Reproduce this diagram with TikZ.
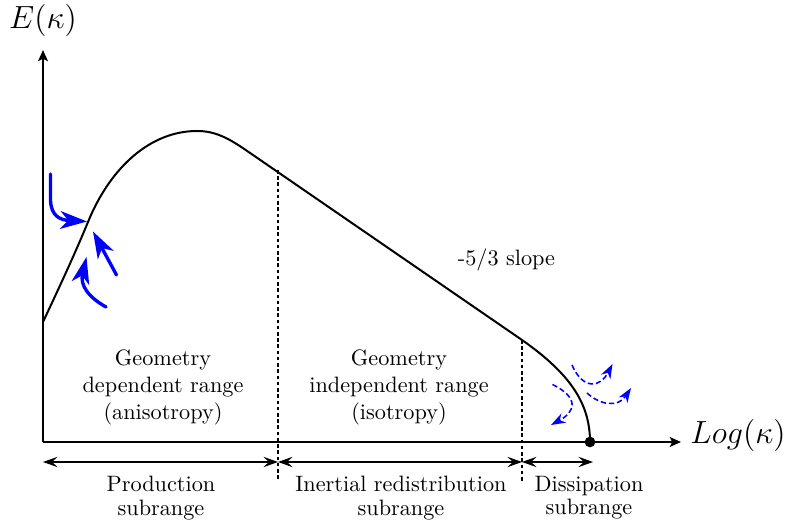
\documentclass[tikz,border=0pt]{standalone}
\usetikzlibrary{arrows.meta}
\tikzset{
    sp axis/.style={line width=0.9pt,
                    -{Stealth[length=5pt, width=4.4pt, inset=1pt]}},
    sp curve/.style={line width=0.9pt},
    sp divider/.style={line width=0.5pt, dash pattern=on 1.6pt off 1.2pt},
    sp range/.style={line width=0.5pt,
                     {Stealth[length=6.5pt, width=4.6pt, inset=2.4pt]}-{Stealth[length=6.5pt, width=4.6pt, inset=2.4pt]}},
    sp text/.style={align=center, font=\normalsize},
    sp sub/.style={align=center, font=\fontsize{10}{10.5}\selectfont},
    sp axis label/.style={font=\Large, anchor=base},
    sp eddy/.style={blue, line width=1.5pt, line cap=round,
                    -{Stealth[length=12pt, width=8pt, inset=3.5pt]}},
    sp decay/.style={blue, line width=0.7pt, dash pattern=on 2.4pt off 1.3pt,
                     -{Stealth[length=6.5pt, width=4.6pt, inset=2pt]}},
}

\begin{document}
\begin{tikzpicture}[x=0.0158cm, y=-0.0158cm]
    \useasboundingbox (0,0) rectangle (788,524);
    % Axes
    \coordinate (O)    at (43, 442);
    \coordinate (ytip) at (43, 50);
    \coordinate (xtip) at (681, 442);
    \draw[sp axis] (O) -- (ytip);
    \draw[sp axis] (O) -- (xtip);
    \node[sp axis label] (ylab) at (43, 28.5) {$E(\kappa)$};
    \node[sp axis label] (xlab) at (738, 443.5) {$Log(\kappa)$};
    % Spectrum
    \coordinate (k0)   at (43, 322);
    \coordinate (kup)  at (88, 222);
    \coordinate (kpk)  at (197, 131);
    \coordinate (kin)  at (245, 149.5);
    \coordinate (kb)   at (522, 340);
    \coordinate (kend) at (590, 442);
    \draw[sp curve] (k0) .. controls (58, 290) and (74, 256) .. (kup)
        .. controls (110, 168) and (150, 131) .. (kpk)
        .. controls (215, 131) and (228, 138) .. (kin)
        -- (kb)
        .. controls (572, 375) and (590, 405) .. (kend);
    \fill (kend) circle[radius=2.4pt];
    % Range dividers
    \coordinate (d1top) at (278, 170);
    \coordinate (d1bot) at (278, 481);
    \coordinate (d2top) at (522, 340);
    \coordinate (d2bot) at (522, 483);
    \draw[sp divider] (d1top) -- (d1bot);
    \draw[sp divider] (d2top) -- (d2bot);
    % Subrange arrows
    \coordinate (r0) at (43, 462);
    \coordinate (r1) at (278, 462);
    \coordinate (r2) at (522, 462);
    \coordinate (r3) at (593, 462);
    \draw[sp range] (r0) -- (r1);
    \draw[sp range] (r1) -- (r2);
    \draw[sp range] (r2) -- (r3);
    \node[sp sub] (prod)  at (161, 498) {Production\\subrange};
    \node[sp sub] (inert) at (401, 498) {Inertial redistribution\\subrange};
    \node[sp sub] (diss)  at (589, 498) {Dissipation\\subrange};
    % Range descriptions
    \node[sp text] (geodep)   at (163, 387.5)
        {Geometry\\dependent range\\(anisotropy)};
    \node[sp text] (geoindep) at (399, 387.5)
        {Geometry\\independent range\\(isotropy)};
    \node[sp text, anchor=base] (slope) at (506.5, 266) {-5/3 slope};
    % Energy injection (large eddies)
    \draw[sp eddy] (50.5, 174) -- (50.5, 200)
        .. controls (51, 216) and (60, 220) .. (87, 221.5);
    \draw[sp eddy] (116.5, 275) -- (93, 231.5);
    \draw[sp eddy] (106, 307) .. controls (88, 297) and (80, 285) .. (86.5, 257);
    % Dissipation (small eddies)
    \draw[sp decay] (572, 365) .. controls (583, 390) and (600, 388) .. (612.5, 364);
    \draw[sp decay] (587, 393) .. controls (600, 405) and (618, 408) .. (631, 388);
    \draw[sp decay] (552.5, 384.5) .. controls (580, 398) and (575, 412) .. (551, 425);
\end{tikzpicture}
\end{document}
